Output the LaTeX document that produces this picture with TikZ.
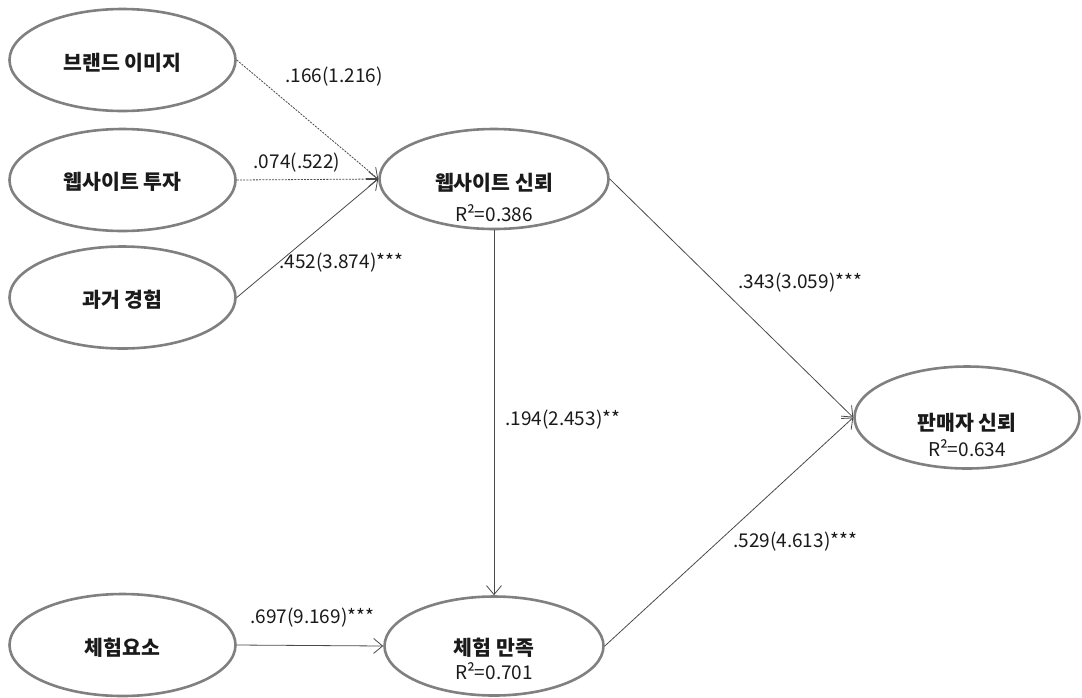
\documentclass[tikz,border=0pt]{standalone}
\usepackage{fontspec}
\setmainfont{Noto Sans CJK KR}
\usetikzlibrary{shapes.geometric,arrows.meta}
\definecolor{ellgray}{HTML}{808080}
\definecolor{linegray}{HTML}{4A4A4A}
\definecolor{txt}{HTML}{1A1A1A}
\begin{document}
\begin{tikzpicture}[x=1pt,y=-1pt,
  latent/.style={ellipse,draw=ellgray,line width=2.6pt,minimum width=226pt,minimum height=102pt,inner sep=0pt},
  kor/.style={font=\fontsize{20.5}{24}\selectfont\bfseries,text=txt,inner sep=0pt},
  coef/.style={font=\fontsize{19}{22}\selectfont,text=txt,inner sep=0pt},
  pathline/.style={draw=linegray,line width=0.8pt,-{Straight Barb[length=9pt,width=15pt]}},
  nspath/.style={pathline,dash pattern=on 2pt off 1.2pt}]
\useasboundingbox (0,0) rectangle (1082,697);
\fill[white] (0,0) rectangle (1082,697);
% latent variables
\node[latent] (b)  at (122.5,60)  {};
\node[latent] (wi) at (122.5,180) {};
\node[latent] (p)  at (122.5,297.5) {};
\node[latent] (e)  at (122.5,645) {};
\node[latent,minimum width=229pt,minimum height=100pt] (wt) at (494,179) {};
\node[latent,minimum width=225pt,minimum height=102pt] (s)  at (967,417.5) {};
\node[latent,minimum width=219pt,minimum height=99pt] (es) at (494,646) {};
% texts
\node[kor] (b-t)  at (122.5,63)  {브랜드 이미지};
\node[kor] (wi-t) at (122.5,182) {웹사이트 투자};
\node[kor] (p-t)  at (122.5,300) {과거 경험};
\node[kor] (e-t)  at (122.5,648) {체험요소};
\node[kor] (wt-t) at (494,183) {웹사이트 신뢰};
\node[coef] (wt-r) at (494,213) {R²=0.386};
\node[kor] (s-t)  at (967,423) {판매자 신뢰};
\node[coef] (s-r)  at (967,448) {R²=0.634};
\node[kor] (es-t) at (494,648) {체험 만족};
\node[coef] (es-r) at (494,671) {R²=0.701};
% paths
\draw[nspath] (b.east) -- (wt.west);
\draw[nspath] (wi.east) -- (wt.west);
\draw[pathline] (p.east) -- (wt.west);
\draw[pathline] (wt.east) -- (s.west);
\draw[pathline] (wt.south) -- (es.north);
\draw[pathline] (e.east) -- (es.west);
\draw[pathline] (es.east) -- (s.west);
% coefficients
\node[coef] (c1) at (334,77) {.166(1.216)};
\node[coef] (c2) at (297,163) {.074(.522)};
\node[coef,anchor=west] (c3) at (279,263) {.452(3.874)***};
\node[coef,anchor=west] (c4) at (738,283) {.343(3.059)***};
\node[coef,anchor=west] (c5) at (505,420) {.194(2.453)**};
\node[coef,anchor=west] (c6) at (733,542) {.529(4.613)***};
\node[coef,anchor=west] (c7) at (250,618) {.697(9.169)***};
\end{tikzpicture}
\end{document}
